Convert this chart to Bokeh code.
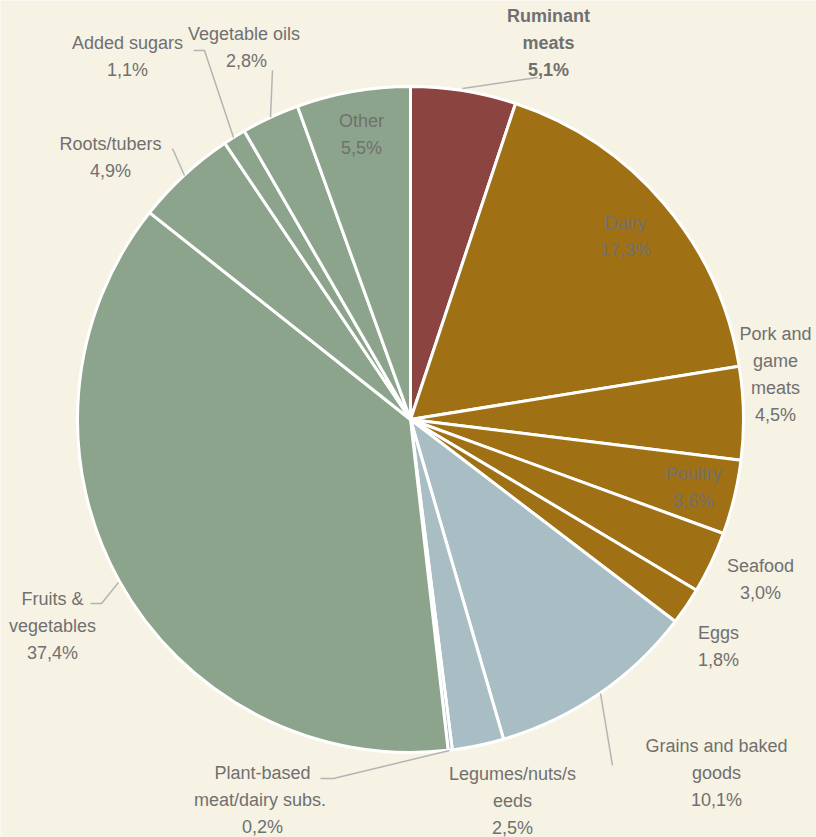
import math
from bokeh.plotting import figure
from bokeh.models import Range1d, ColumnDataSource
from bokeh.core.properties import value
from bokeh.embed import file_html
from bokeh.resources import INLINE

# ---- data ----
categories = ["Ruminant meats", "Dairy", "Pork and game meats", "Poultry", "Seafood", "Eggs",
              "Grains and baked goods", "Legumes/nuts/seeds", "Plant-based meat/dairy subs.",
              "Fruits & vegetables", "Roots/tubers", "Added sugars", "Vegetable oils", "Other"]
shares = [5.1, 17.3, 4.5, 3.6, 3.0, 1.8, 10.1, 2.5, 0.2, 37.4, 4.9, 1.1, 2.8, 5.5]
label_texts = ["Ruminant\nmeats\n5,1%", "Dairy\n17,3%", "Pork and\ngame\nmeats\n4,5%", "Poultry\n3,6%",
               "Seafood\n3,0%", "Eggs\n1,8%", "Grains and baked\ngoods\n10,1%",
               "Legumes/nuts/s\needs\n2,5%", "Plant-based\nmeat/dairy  subs.\n0,2%",
               "Fruits &\nvegetables\n37,4%", "Roots/tubers\n4,9%", "Added sugars\n1,1%",
               "Vegetable  oils\n2,8%", "Other\n5,5%"]

# ---- styling / layout ----
W, H = 816, 837
BG = "#F6F2E4"
RED, BROWN, BLUE, GREEN = "#8C4440", "#A07015", "#A9BDC4", "#8BA48B"
slice_colors = [RED, BROWN, BROWN, BROWN, BROWN, BROWN, BLUE, BLUE, BLUE,
                GREEN, GREEN, GREEN, GREEN, GREEN]
CX, CY, R = 410, 419, 333
FONT = "Liberation Sans"

# label anchor (center x, center y of first line) in pixel coordinates
label_pos = [(548, 15), (625, 222), (775, 333), (693, 473), (760, 565), (718, 632),
             (716, 745), (512, 773), (262, 772), (52, 598), (110, 143), (127, 42),
             (246, 33), (361, 120)]
label_bold = [True] + [False] * 13
LINE_H = 27.0

leaders = [
    [(462, 88), (537, 77)],
    [(600, 693), (612, 765)],
    [(449, 750), (333, 778), (320, 778)],
    [(118, 582), (101, 603), (90, 603)],
    [(184, 175), (172, 148)],
    [(233, 137), (204, 50), (193, 50)],
    [(270, 117), (272, 70)],
]

def fy(y):
    return H - y

p = figure(width=W, height=H, output_backend="svg", toolbar_location=None,
           x_range=Range1d(0, W), y_range=Range1d(0, H),
           x_axis_location=None, y_axis_location=None, min_border=0)
p.grid.visible = False
p.outline_line_color = None
p.background_fill_color = BG
p.border_fill_color = BG

total = sum(shares)
starts, ends = [], []
cum = 0.0
for s in shares:
    a0 = math.pi / 2 - 2 * math.pi * cum / total
    cum += s
    a1 = math.pi / 2 - 2 * math.pi * cum / total
    starts.append(a1)
    ends.append(a0)

src = ColumnDataSource(dict(cat=categories, share=shares, start=starts, end=ends,
                            color=slice_colors))
p.wedge(x=CX, y=fy(CY), radius=R, start_angle="start", end_angle="end",
        fill_color="color", line_color="white", line_width=3, source=src)

p.multi_line(xs=[[pt[0] for pt in l] for l in leaders],
             ys=[[fy(pt[1]) for pt in l] for l in leaders],
             line_color="#B4B4B4", line_width=1.5)

# draw each line of each label separately for exact line spacing
xs, ys, ts, xb, yb, tb = [], [], [], [], [], []
for txt, (lx, ly), b in zip(label_texts, label_pos, label_bold):
    for i, line in enumerate(txt.split("\n")):
        if b:
            xb.append(lx); yb.append(fy(ly + i * LINE_H)); tb.append(line)
        else:
            xs.append(lx); ys.append(fy(ly + i * LINE_H)); ts.append(line)

p.text(x=xs, y=ys, text=ts, text_align="center", text_baseline="middle",
       text_font=value(FONT), text_font_size="18px", text_color="#707070")
p.text(x=xb, y=yb, text=tb, text_align="center", text_baseline="middle",
       text_font=value(FONT), text_font_size="18px", text_color="#707070",
       text_font_style="bold")

open("out.html", "w").write(file_html(p, INLINE))
